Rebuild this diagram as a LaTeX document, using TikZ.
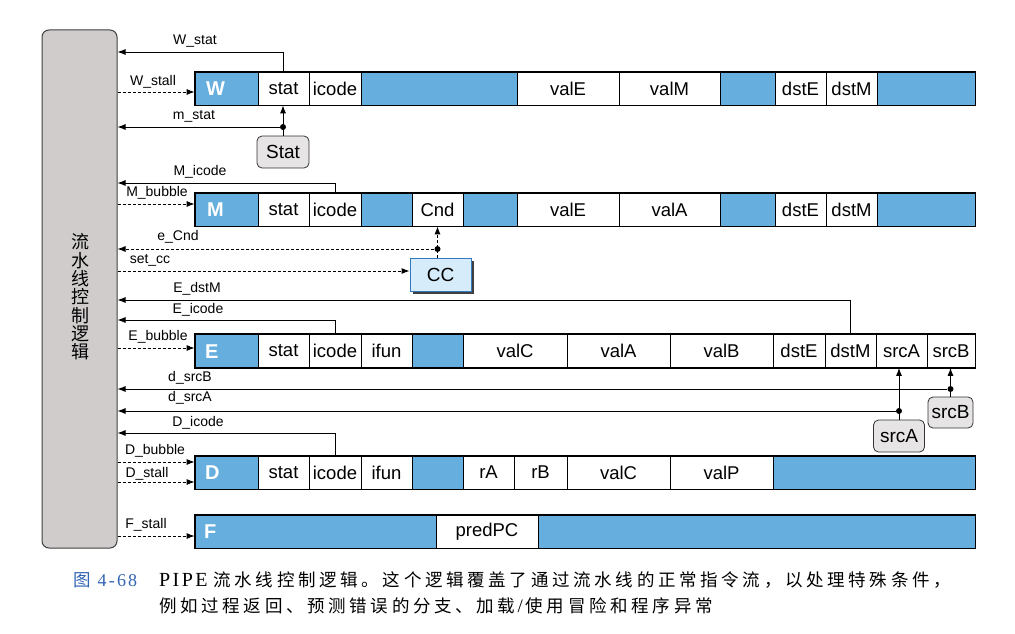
\documentclass[tikz,border=0pt]{standalone}
\usepackage{fontspec}
\setmainfont{Liberation Serif}
\setsansfont{Liberation Sans}
\newfontfamily\cjk{Noto Sans CJK SC}
\newfontfamily\capcjk[LetterSpace=21]{Noto Sans CJK SC}
\newfontfamily\capserif[LetterSpace=12]{Liberation Serif}
\usetikzlibrary{arrows.meta,shadows,calc}
\definecolor{cellblue}{RGB}{102,174,222}
\definecolor{ctrlgray}{RGB}{208,204,204}
\definecolor{boxgray}{RGB}{230,228,228}
\definecolor{ccfill}{RGB}{214,236,250}
\definecolor{ccdraw}{RGB}{50,120,190}
\definecolor{capblue}{RGB}{50,100,180}
\newcommand{\pipeRow}[3]{%
  \foreach \a/\b/\t/\k [count=\n] in {#3} {
    \node[cell\k, minimum width={(\b-\a)*1pt}] (#1\n) at ({(\a+\b)/2},#2) {\t};
  }}
\begin{document}
\begin{tikzpicture}[x=1pt,y=-1pt,
  cell/.style={draw=black, line width=0.7pt, minimum height=33pt, inner sep=0pt,
    font=\sffamily\fontsize{18.5}{18.5}\selectfont},
  cellw/.style={cell, fill=white},
  cellb/.style={cell, fill=cellblue},
  rowframe/.style={draw=black, line width=1.6pt},
  lbl/.style={font=\sffamily\fontsize{14}{14}\selectfont, inner sep=0pt},
  sig/.style={draw=black, line width=0.9pt, -{Latex[length=8pt,width=6pt]}},
  dsig/.style={sig, dash pattern=on 3pt off 2pt},
  gbox/.style={draw=black!80, fill=boxgray, rounded corners=5pt, line width=0.8pt,
    inner sep=0pt, font=\sffamily\fontsize{19}{19}\selectfont},
  ccbox/.style={draw=ccdraw, fill=ccfill, line width=0.9pt, inner sep=0pt,
    font=\sffamily\fontsize{19}{19}\selectfont,
    drop shadow={shadow xshift=3pt, shadow yshift=-3pt, fill=black!75, opacity=1}},
  stage/.style={text=white, font=\sffamily\bfseries\fontsize{20}{20}\selectfont,
    inner sep=0pt, anchor=west},
  dot/.style={circle, fill=black, inner sep=0pt, minimum size=6pt},
  ]
\useasboundingbox[fill=white] (0,0) rectangle (1015,634);

% control logic
\node[draw=black!75, fill=ctrlgray, line width=1pt, rounded corners=7pt,
  minimum width=75pt, minimum height=518pt, inner sep=0pt] (ctrl) at (79.5,289) {};
\node[font=\cjk\fontsize{18}{18.3}\selectfont, align=center, inner sep=0pt]
  (ctrltxt) at (80,297) {流\\水\\线\\控\\制\\逻\\辑};

% W row
\pipeRow{W}{88.5}{195/258/{}/b, 258/309/stat/w, 309/361/icode/w, 361/517/{}/b,
  517/619/valE/w, 619/720/valM/w, 720/775/{}/b, 775/826/dstE/w, 826/877/dstM/w, 877/975/{}/b}
\draw[rowframe] (W1.north west) rectangle (W10.south east);
\node[stage] (Wl) at (206,89) {W};

% M row
\pipeRow{M}{209.5}{195/258/{}/b, 258/309/stat/w, 309/361/icode/w, 361/412/{}/b,
  412/463/Cnd/w, 463/517/{}/b, 517/619/valE/w, 619/720/valA/w, 720/775/{}/b,
  775/826/dstE/w, 826/877/dstM/w, 877/975/{}/b}
\draw[rowframe] (M1.north west) rectangle (M12.south east);
\node[stage] (Ml) at (207,210) {M};

% E row
\pipeRow{E}{351}{195/258/{}/b, 258/309/stat/w, 309/361/icode/w, 361/412/ifun/w,
  412/463/{}/b, 463/567/valC/w, 567/670/valA/w, 670/773/valB/w, 773/825/dstE/w,
  825/876/dstM/w, 876/927/srcA/w, 927/975/srcB/w}
\draw[rowframe] (E1.north west) rectangle (E12.south east);
\node[stage] (El) at (205,352) {E};

% D row
\pipeRow{D}{472.5}{195/258/{}/b, 258/309/stat/w, 309/361/icode/w, 361/412/ifun/w,
  412/463/{}/b, 463/514/rA/w, 514/567/rB/w, 567/670/valC/w, 670/773/valP/w, 773/975/{}/b}
\draw[rowframe] (D1.north west) rectangle (D10.south east);
\node[stage] (Dl) at (205,473) {D};

% F row
\pipeRow{F}{531.5}{195/436/{}/b, 436/538/predPC/w, 538/975/{}/b}
\draw[rowframe] (F1.north west) rectangle (F3.south east);
\node[stage] (Fl) at (204,532) {F};

% W_stat, W_stall
\draw[sig] (W2.north) |- (ctrl.east |- 0,52);
\node[lbl] (lWstat) at (195,41) {W\_stat};
\draw[dsig] (ctrl.east |- 0,92) -- (W1.west |- 0,92);
\node[lbl] (lWstall) at (153,82) {W\_stall};

% Stat, m_stat
\node[gbox, minimum width=52pt, minimum height=32pt] (statbox) at (283,152) {Stat};
\draw[sig] (statbox.north) -- (statbox.north |- W2.south);
\node[dot] (mdot) at (statbox.north |- 0,127) {};
\draw[sig] (mdot) -- (ctrl.east |- mdot);
\node[lbl] (lmstat) at (194,116) {m\_stat};

% M_icode, M_bubble
\draw[sig] (M3.north) |- (ctrl.east |- 0,183);
\node[lbl] (lMicode) at (200,172) {M\_icode};
\draw[dsig] (ctrl.east |- 0,204) -- (M1.west |- 0,204);
\node[lbl] (lMbubble) at (157,193) {M\_bubble};

% CC, e_Cnd, set_cc
\node[ccbox, minimum width=61pt, minimum height=33pt] (cc) at (440.5,274.5) {CC};
\draw[dsig] (cc.north -| M5.south) -- (M5.south);
\node[dot] (cdot) at (M5.south |- 0,249) {};
\draw[dsig] (cdot) -- (ctrl.east |- cdot);
\node[lbl] (leCnd) at (178,237) {e\_Cnd};
\draw[dsig] (ctrl.east |- 0,271) -- (cc.west |- 0,271);
\node[lbl] (lsetcc) at (150,260) {set\_cc};

% E_dstM, E_icode, E_bubble
\draw[sig] (E10.north) |- (ctrl.east |- 0,300);
\node[lbl] (lEdstM) at (197,289) {E\_dstM};
\draw[sig] (E3.north) |- (ctrl.east |- 0,320);
\node[lbl] (lEicode) at (198,310) {E\_icode};
\draw[dsig] (ctrl.east |- 0,348) -- (E1.west |- 0,348);
\node[lbl] (lEbubble) at (158,337) {E\_bubble};

% srcB, d_srcB
\node[gbox, minimum width=45pt, minimum height=31pt] (srcBn) at (950.5,412.5) {srcB};
\draw[sig] (srcBn.north) -- (srcBn.north |- E12.south);
\node[dot] (bdot) at (srcBn.north |- 0,389) {};
\draw[sig] (bdot) -- (ctrl.east |- bdot);
\node[lbl] (ldsrcB) at (190,378) {d\_srcB};

% srcA, d_srcA
\node[gbox, minimum width=51pt, minimum height=32pt] (srcAn) at (899,436) {srcA};
\draw[sig] (srcAn.north) -- (srcAn.north |- E11.south);
\node[dot] (adot) at (srcAn.north |- 0,411) {};
\draw[sig] (adot) -- (ctrl.east |- adot);
\node[lbl] (ldsrcA) at (190,398) {d\_srcA};

% D_icode, D_bubble, D_stall
\draw[sig] (D3.north) |- (ctrl.east |- 0,433);
\node[lbl] (lDicode) at (198,423) {D\_icode};
\draw[dsig] (ctrl.east |- 0,462) -- (D1.west |- 0,462);
\node[lbl] (lDbubble) at (155,451) {D\_bubble};
\draw[dsig] (ctrl.east |- 0,482) -- (D1.west |- 0,482);
\node[lbl] (lDstall) at (147,473.5) {D\_stall};

% F_stall
\draw[dsig] (ctrl.east |- 0,536) -- (F1.west |- 0,536);
\node[lbl] (lFstall) at (146,525) {F\_stall};

% caption
\node[anchor=west, inner sep=0pt, text=capblue] (capnum) at (73,580)
  {{\cjk\fontsize{17.5}{20}\selectfont 图}\hspace{7pt}{\capserif\fontsize{18}{20}\selectfont 4-68}};
\node[anchor=west, inner sep=0pt] (cap1) at (159,580)
  {{\capserif\fontsize{20}{20}\selectfont PIPE}\hspace{6pt}{\capcjk\fontsize{17.5}{20}\selectfont 流水线控制逻辑。这个逻辑覆盖了通过流水线的正常指令流，以处理特殊条件，}};
\node[anchor=west, inner sep=0pt] (cap2) at (159,606)
  {{\capcjk\fontsize{17.5}{20}\selectfont 例如过程返回、预测错误的分支、加载}\hspace{2pt}{\capserif\fontsize{19}{20}\selectfont /}\hspace{3pt}{\capcjk\fontsize{17.5}{20}\selectfont 使用冒险和程序异常}};
\end{tikzpicture}
\end{document}
